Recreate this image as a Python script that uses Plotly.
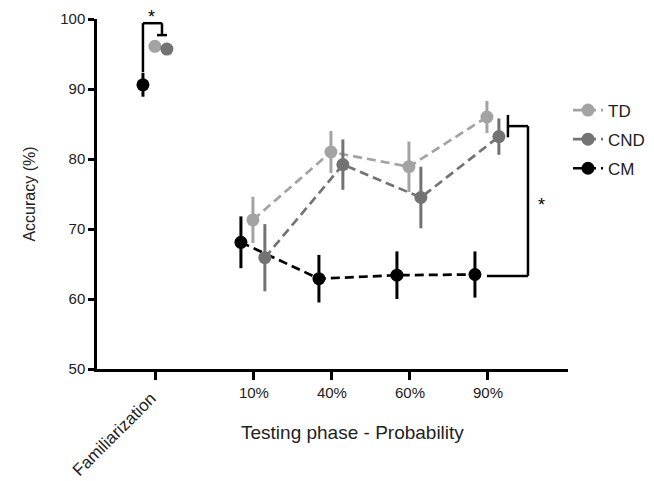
import plotly.graph_objects as go

categories = ["Familiarization", "10%", "40%", "60%", "90%"]
cat_pos = [-0.256, 1, 2, 3, 4]

td = [96.1, 71.3, 81.0, 78.9, 86.0]
td_err = [0.8, 3.3, 3.0, 3.6, 2.3]
cnd = [95.7, 65.9, 79.2, 74.5, 83.2]
cnd_err = [0.7, 4.8, 3.6, 4.4, 2.6]
cm = [90.6, 68.1, 62.9, 63.4, 63.5]
cm_err = [1.7, 3.7, 3.4, 3.4, 3.3]

series = [
    ("CM", cm, cm_err, "#000000", -0.167, 3),
    ("TD", td, td_err, "#a3a3a3", -0.013, 1),
    ("CND", cnd, cnd_err, "#737373", 0.14, 2),
]

FONT = "Liberation Sans, Arial, sans-serif"
fig = go.Figure()
for name, vals, errs, col, off, rank in series:
    xs = [p + off for p in cat_pos]
    fig.add_trace(go.Scatter(
        x=xs[:1], y=vals[:1], mode="markers", name=name, legendgroup=name,
        showlegend=False,
        marker=dict(color=col, size=13),
        error_y=dict(type="data", array=errs[:1], color=col, thickness=3, width=0),
    ))
    fig.add_trace(go.Scatter(
        x=xs[1:], y=vals[1:], mode="lines+markers", name=name, legendgroup=name,
        legendrank=rank,
        line=dict(color=col, width=2.7, dash="9px,5px"),
        marker=dict(color=col, size=13),
        error_y=dict(type="data", array=errs[1:], color=col, thickness=3, width=0),
    ))

bl = dict(color="black", width=2.5)
fam_cm_x = cat_pos[0] - 0.167
shapes = [
    dict(type="line", x0=fam_cm_x, x1=fam_cm_x, y0=92.4, y1=99.4, line=bl),
    dict(type="line", x0=fam_cm_x, x1=-0.179, y0=99.4, y1=99.4, line=bl),
    dict(type="line", x0=-0.179, x1=-0.179, y0=99.4, y1=97.7, line=bl),
    dict(type="line", x0=-0.243, x1=-0.115, y0=97.7, y1=97.7, line=bl),
    dict(type="line", x0=3.987, x1=4.513, y0=63.3, y1=63.3, line=bl),
    dict(type="line", x0=4.513, x1=4.513, y0=63.3, y1=84.7, line=bl),
    dict(type="line", x0=4.256, x1=4.513, y0=84.7, y1=84.7, line=bl),
    dict(type="line", x0=4.256, x1=4.256, y0=83.1, y1=86.3, line=bl),
]
for s in shapes:
    s.update(xref="x", yref="y", layer="above")

annotations = [
    dict(x=-0.31, y=1.04, xref="x", yref="paper", text="*", showarrow=False,
         font=dict(size=18, color="black", family=FONT)),
    dict(x=4.69, y=73.4, xref="x", yref="y", text="*", showarrow=False,
         font=dict(size=18, color="black", family=FONT)),
    dict(x=0.5435, y=-0.217, xref="paper", yref="paper", text="Testing phase - Probability",
         showarrow=False, font=dict(size=19, color="#222", family=FONT)),
    dict(x=cat_pos[0] + 0.09, y=-0.05, xref="x", yref="paper", text=categories[0],
         textangle=-45, xanchor="right", yanchor="top", showarrow=False,
         font=dict(size=17, color="#222", family=FONT)),
]

fig.update_layout(
    width=646, height=473, autosize=False,
    margin=dict(l=89, r=86, t=11, b=112, autoexpand=False),
    paper_bgcolor="white", plot_bgcolor="white",
    font=dict(family=FONT, color="#222"),
    shapes=shapes, annotations=annotations,
    showlegend=True,
    legend=dict(x=1.0, y=0.79, xanchor="left", yanchor="top", traceorder="grouped",
                font=dict(size=17, color="#222"), bgcolor="rgba(0,0,0,0)",
                tracegroupgap=4, itemwidth=30),
    xaxis=dict(range=[-1.012, 5.026], tickmode="array", tickvals=cat_pos,
               ticktext=[""] + categories[1:], tickangle=0, showgrid=False, zeroline=False,
               showline=True, linecolor="black", linewidth=2.5, ticks="outside",
               ticklen=8, tickwidth=2.5, tickcolor="black", automargin=False,
               tickfont=dict(size=15, color="#222")),
    yaxis=dict(range=[50, 100], tickvals=[50, 60, 70, 80, 90, 100], showgrid=False,
               zeroline=False, showline=True, linecolor="black", linewidth=2.5,
               ticks="outside", ticklen=6, tickwidth=2.5, tickcolor="black", automargin=False,
               tickfont=dict(size=15, color="#222"),
               title=dict(text="Accuracy (%)", font=dict(size=16, color="#222"), standoff=21)),
)
fig.write_html("out.html")
